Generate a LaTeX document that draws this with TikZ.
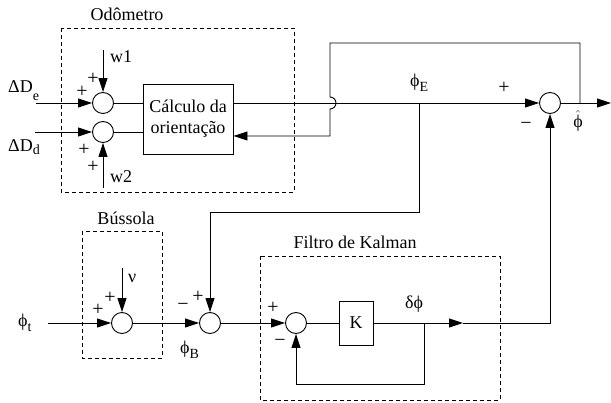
\documentclass[tikz,border=0pt]{standalone}
\usepackage{fontspec}
\setmainfont{Liberation Serif}
\usetikzlibrary{arrows.meta, calc}

\newcommand{\lowsub}[2][5pt]{\raisebox{-#1}{\fontsize{14}{14}\selectfont #2}}

\begin{document}
\begin{tikzpicture}[
  x=1pt, y=1pt,
  font=\fontsize{18}{21}\selectfont,
  sumnode/.style={draw, circle, minimum size=21pt, inner sep=0pt, line width=0.9pt},
  blockbox/.style={draw, line width=0.9pt, align=center, inner sep=0pt},
  groupbox/.style={draw, line width=0.8pt, dash pattern=on 4pt off 3pt},
  wire/.style={line width=0.9pt},
  sig/.style={wire, -{Triangle[length=14pt, width=9pt]}},
  sgn/.style={inner sep=0pt, font=\fontsize{20}{20}\selectfont},
  lbl/.style={inner sep=0pt, anchor=base west},
  title/.style={inner sep=0pt, anchor=base}
]
\useasboundingbox (0,0) rectangle (611,-403);

% Odômetro block
\draw[groupbox] (61,-28) rectangle (294,-192);
\node[title] (odotitle) at (127,-21) {Odômetro};
\node[sumnode] (se) at (103,-103) {};
\node[sumnode] (sd) at (103,-132) {};
\node[blockbox, minimum width=90pt, minimum height=70pt] (calc) at (188,-119) {Cálculo da\\orientação};

\coordinate (dein) at (36,-103);
\coordinate (ddin) at (35,-132);
\coordinate (w1in) at (103,-50);
\coordinate (w2in) at (103,-188);
\node[lbl] (delbl) at (8,-93) {ΔD\lowsub[8pt]{e}};
\node[lbl] (ddlbl) at (8,-152) {ΔD\lowsub[3pt]{d}};
\node[lbl] (w1lbl) at (110,-63) {w1};
\node[lbl] (w2lbl) at (110,-183) {w2};
\node[sgn] at (93,-79) {+};
\node[sgn] at (82,-92) {+};
\node[sgn] at (84,-150) {+};
\node[sgn] at (93,-167) {+};

\draw[sig] (dein) -- (se);
\draw[sig] (ddin) -- (sd);
\draw[sig] (w1in) -- (se);
\draw[sig] (w2in) -- (sd);
\draw[wire] (se) -- (se -| calc.west);
\draw[wire] (sd) -- (sd -| calc.west);

% output sum and feedback to the odometer
\node[sumnode] (so) at (550,-103) {};
\coordinate (etap) at (419,-103);
\coordinate (fbtap) at (580,-103);
\coordinate (hatout) at (611,-103);
\draw[sig] (calc.east |- se) -- (so);
\draw[sig] (so) -- (hatout);
\draw[sig] (fbtap) |- (330,-43) -- (330,-97)
  arc[start angle=90, end angle=-90, radius=6] |- ($(calc.east)+(0,-17)$);
\node[lbl] (elbl) at (410,-87) {ϕ\lowsub{E}};
\node[inner sep=0pt] (hatlbl) at (578,-121) {$\hat{\hbox{ϕ}}$};
\node[sgn] at (504,-88) {+};
\node[sgn] at (526,-126) {−};

% Bússola block
\draw[groupbox] (82,-231) rectangle (162,-358);
\node[title] (bustitle) at (126,-225) {Bússola};
\node[sumnode] (sn) at (122,-323) {};
\coordinate (nuin) at (122,-268);
\coordinate (tin) at (48,-323);
\node[lbl] (nulbl) at (128,-283) {ν};
\node[lbl] (tlbl) at (18,-327) {ϕ\lowsub{t}};
\node[sgn] at (110,-298) {+};
\node[sgn] at (98,-310) {+};
\draw[sig] (nuin) -- (sn);
\draw[sig] (tin) -- (sn);

% compass minus estimate
\node[sumnode] (sb) at (210,-323) {};
\coordinate (ejoin) at (210,-212);
\node[lbl] (blbl) at (180,-354) {ϕ\lowsub{B}};
\node[sgn] at (183,-307) {−};
\node[sgn] at (198,-297) {+};
\draw[sig] (sn) -- (sb);
\draw[sig] (etap) |- (ejoin) -- (sb);

% Filtro de Kalman block
\draw[groupbox] (260,-256) rectangle (500,-400);
\node[title] (kaltitle) at (355,-249) {Filtro de Kalman};
\node[sumnode] (sk) at (296,-323) {};
\node[blockbox, minimum width=34pt, minimum height=44pt] (gain) at (356,-323) {K};
\coordinate (ktap) at (424,-323);
\coordinate (dphi) at (463,-323);
\node[lbl] (dlbl) at (405,-309) {δϕ};
\node[sgn] at (273,-308) {+};
\node[sgn] at (280,-343) {−};
\draw[sig] (sb) -- (sk);
\draw[wire] (sk) -- (gain);
\draw[sig] (gain) -- (dphi);
\draw[sig] (dphi) -- (so |- gain) -- (so);
\draw[sig] (ktap) |- ($(sk)+(0,-61)$) -- (sk);

\end{tikzpicture}
\end{document}
